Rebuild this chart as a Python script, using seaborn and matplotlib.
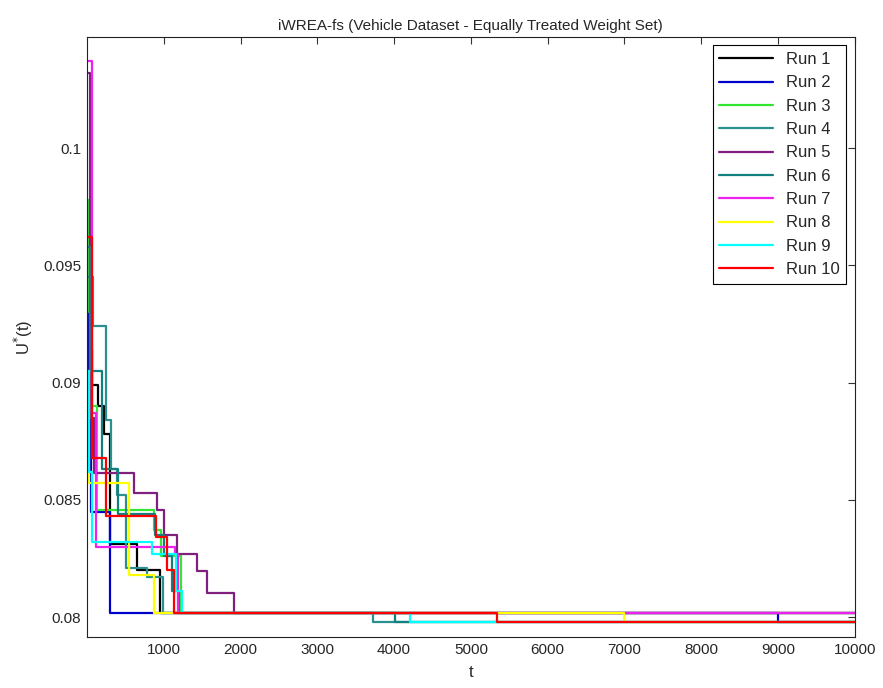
import pandas as pd
import seaborn as sns
import matplotlib.pyplot as plt
import numpy as np

# Dados: cada execucao e uma funcao em degrau (instante de mudanca, valor)
T_MAX = 10000

run1_t = [0, 20, 60, 143, 221, 300, 655, 950]
run1_u = [0.0931, 0.0914, 0.0899, 0.0890, 0.0878, 0.0831, 0.0820, 0.08018]

run2_t = [0, 20, 50, 300, 9000]
run2_u = [0.0935, 0.0890, 0.0845, 0.08018, 0.07979]

run3_t = [0, 25, 60, 130, 872, 960, 1220]
run3_u = [0.0978, 0.0930, 0.0890, 0.08456, 0.0837, 0.0826, 0.08018]

run4_t = [0, 78, 247, 308, 390, 504, 781, 990, 3720]
run4_u = [0.0945, 0.0924, 0.0884, 0.0863, 0.0852, 0.0821, 0.0817, 0.08018, 0.07979]

run5_t = [0, 40, 91, 612, 911, 1003, 1170, 1432, 1567, 1914]
run5_u = [0.1032, 0.0885, 0.08614, 0.08529, 0.08456, 0.0835, 0.0827, 0.08197, 0.08104, 0.08018]

run6_t = [0, 40, 200, 404, 885, 1000, 1107, 1200, 4010]
run6_u = [0.0958, 0.0905, 0.0863, 0.0844, 0.0835, 0.0826, 0.0811, 0.08018, 0.07979]

run7_t = [0, 60, 120, 1142, 1190]
run7_u = [0.1037, 0.0887, 0.0830, 0.0827, 0.08018]

run8_t = [0, 26, 547, 872, 7000]
run8_u = [0.0905, 0.0857, 0.0818, 0.08018, 0.07979]

run9_t = [0, 30, 69, 851, 1155, 1237, 4210]
run9_u = [0.0905, 0.0862, 0.0832, 0.0827, 0.0811, 0.08018, 0.07979]

run10_t = [0, 65, 243, 894, 1042, 1133, 5340]
run10_u = [0.0962, 0.0868, 0.0843, 0.0834, 0.0820, 0.08018, 0.07979]

runs_t = [run1_t, run2_t, run3_t, run4_t, run5_t, run6_t, run7_t, run8_t, run9_t, run10_t]
runs_u = [run1_u, run2_u, run3_u, run4_u, run5_u, run6_u, run7_u, run8_u, run9_u, run10_u]
nomes = [f"Run {i}" for i in range(1, 11)]
cores = ["#000000", "#0000cc", "#33e633", "#2a8f8f", "#7f1f7f",
         "#138080", "#ee22ee", "#ffff00", "#00ffff", "#ff0000"]

# Monta tabela longa (estende o ultimo valor ate T_MAX)
linhas = []
for nome, ts, us in zip(nomes, runs_t, runs_u):
    for t, u in zip(ts + [T_MAX], us + [us[-1]]):
        linhas.append((nome, t, u))
df = pd.DataFrame(linhas, columns=["run", "t", "U"])

sns.set_style("white")
plt.rcParams['font.family'] = ['Liberation Sans', 'DejaVu Sans']
plt.rcParams['xtick.direction'] = 'in'
plt.rcParams['ytick.direction'] = 'in'

fig = plt.figure(figsize=(8.83, 6.88), dpi=100)
ax = fig.add_axes([0.0985, 0.074, 0.8695, 0.872])

sns.lineplot(data=df, x="t", y="U", hue="run", palette=cores, hue_order=nomes,
             drawstyle="steps-post", estimator=None, linewidth=1.6, ax=ax)

ax.set_xlim(0, T_MAX)
ax.set_ylim(0.07915, 0.10473)
ax.set_xticks(np.arange(1000, 10001, 1000))
ax.set_yticks([0.08, 0.085, 0.09, 0.095, 0.1])
ax.set_yticklabels(["0.08", "0.085", "0.09", "0.095", "0.1"])
ax.tick_params(axis="both", labelsize=11, length=5, width=0.8, color="#333333",
               top=True, right=True, pad=4)
for s in ax.spines.values():
    s.set_color("#222222")
    s.set_linewidth(0.8)

ax.set_title("iWREA-fs (Vehicle Dataset - Equally Treated Weight Set)", fontsize=11, pad=5)
ax.set_xlabel("t", fontsize=12, labelpad=6)
ax.set_ylabel(r"U$^{*}$(t)", fontsize=12, labelpad=6)

handles, labels = ax.get_legend_handles_labels()
leg = ax.legend(handles, labels, loc="upper right", fontsize=12, frameon=True,
                fancybox=False, edgecolor="black", framealpha=1,
                handlelength=3.2, labelspacing=0.5, borderaxespad=0.5)
leg.get_frame().set_linewidth(0.8)

plt.savefig("out.png", dpi=100)
